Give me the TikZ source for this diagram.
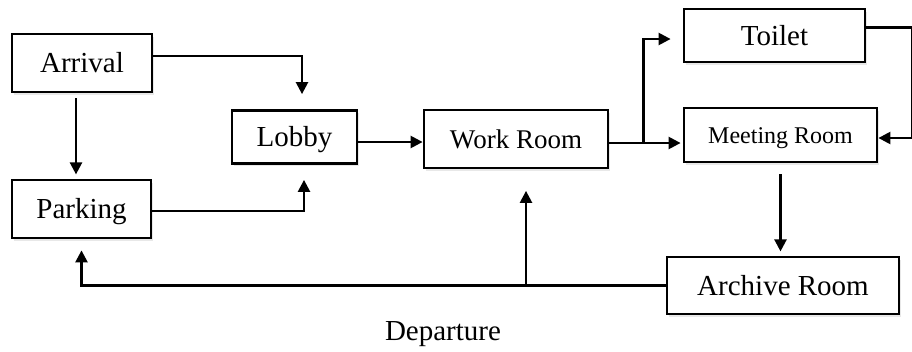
\documentclass[tikz,border=0pt]{standalone}
\usepackage{fontspec}
\setmainfont{Liberation Serif}
\usetikzlibrary{arrows.meta,shadows}

\begin{document}
\begin{tikzpicture}[x=1pt, y=-1pt,
  room/.style={draw, line width=2.8pt, fill=white, inner sep=0pt,
    text height=19pt, text depth=0pt,
    font=\fontsize{29}{34}\selectfont,
    drop shadow={shadow xshift=1.5pt, shadow yshift=-2.5pt, opacity=0.18}},
  link/.style={line width=2.4pt, -{Triangle[length=12pt,width=12pt]}}]
  \useasboundingbox (0,0) rectangle (912,351);
  \node[room, minimum width=140pt, minimum height=58pt] (arrival) at (82,63) {Arrival};
  \node[room, minimum width=139pt, minimum height=58pt] (parking) at (81.5,209) {Parking};
  \node[room, minimum width=125pt, minimum height=53pt] (lobby) at (294.5,137) {Lobby};
  \node[room, minimum width=184pt, minimum height=58pt, text height=18pt, font=\fontsize{27}{32}\selectfont] (work) at (516,139) {Work Room};
  \node[room, minimum width=181pt, minimum height=53pt] (toilet) at (774.5,35.5) {Toilet};
  \node[room, minimum width=193pt, minimum height=54pt, text height=16pt, font=\fontsize{24}{29}\selectfont] (meeting) at (780.5,135) {Meeting Room};
  \node[room, minimum width=232pt, minimum height=57pt] (archive) at (783,285.5) {Archive Room};
  \node[font=\fontsize{29}{34}\selectfont, text height=19pt, text depth=0pt] (departure) at (443,331) {Departure};
  \coordinate (l1) at ([yshift=-5pt]lobby.east);
  \coordinate (w1) at ([yshift=-4pt]work.east);
  \coordinate (b1) at ([xshift=34pt]w1);
  \coordinate (a1) at ([xshift=10pt]work.south |- archive.west);
  \draw[link] ([yshift=7pt]arrival.east) -| ([xshift=7.5pt,yshift=15pt]lobby.north);
  \draw[link] ([xshift=-6pt,yshift=-5pt]arrival.south) -- ++(0,76);
  \draw[link] ([yshift=-2pt]parking.east) -| ([xshift=9.5pt,yshift=-15pt]lobby.south);
  \draw[link] (l1) -- (l1 -| work.west);
  \draw[link, shorten >=2pt] (w1) -- (w1 -| meeting.west);
  \draw[link] (b1) |- ([xshift=-12pt,yshift=-3.5pt]toilet.west);
  \draw[link] ([yshift=8pt]toilet.east) -- ++(45.5,0) |- ([yshift=-3pt]meeting.east);
  \draw[link] ([yshift=-11pt]meeting.south) -- ++(0,77);
  \draw[link] (archive.west) -| ([yshift=-11pt]parking.south);
  \draw[link] (a1) -- ([xshift=10pt,yshift=-21.5pt]work.south);
\end{tikzpicture}
\end{document}
